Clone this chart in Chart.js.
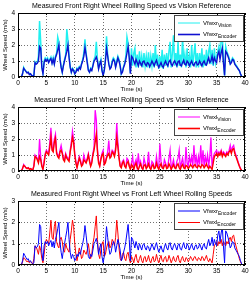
<!DOCTYPE html>
<html>
<head>
<meta charset="utf-8">
<script src="https://cdn.jsdelivr.net/npm/chart.js@4/dist/chart.umd.min.js"></script>
<style>
  html, body { margin: 0; padding: 0; background: #fff; }
  .wrap { position: absolute; left: 0; width: 251px; height: 94px; }
  canvas { display: block; }
</style>
</head>
<body>
<div class="wrap" style="top:0px"><canvas id="c1" width="251" height="94"></canvas></div>
<div class="wrap" style="top:94px"><canvas id="c2" width="251" height="94"></canvas></div>
<div class="wrap" style="top:188px"><canvas id="c3" width="251" height="94"></canvas></div>
<script>
// ---- data (sampled every DT seconds, t = 0 .. 40 s) ----
const DT = 0.2;
const xTicks = [0, 5, 10, 15, 20, 25, 30, 35, 40];
const titles = [
  "Measured Front Right Wheel Rolling Speed vs Vision Reference",
  "Measured Front Left Wheel Rolling Speed vs Vision Reference",
  "Measured Front Right Wheel vs Front Left Wheel Rolling Speeds"
];
const xLabel = "Time (s)";
const yLabel = "Wheel Speed (m/s)";

// right wheel, encoder
const encR = [
  0,0,0,0,0.2,
  0.55,0.45,0.35,0.25,0.3,
  0.15,0.2,0.1,0.05,0.1,
  0.9,0.8,0.85,1.0,1.9,
  1.8,0.6,0.2,0.9,1.1,
  1.0,1.1,0.9,1.05,1.15,
  0.85,1.1,0.8,1.2,1.4,
  1.7,2.0,1.1,0.6,0.3,
  0.7,1.0,1.3,1.6,2.0,
  1.2,0.6,0.3,0.5,0.4,
  0.2,0.3,0.5,0.4,0.6,
  0.5,0.8,1.0,1.3,1.85,
  1.4,0.9,0.4,0.3,0.5,
  0.4,0.7,1.0,1.1,1.25,
  1.0,0.5,0.8,1.0,0.4,
  0.1,0.4,1.0,1.8,1.3,
  0.8,0.5,0.6,0.9,1.1,
  1.0,0.6,0.9,1.2,1.0,
  0.7,0.2,0.3,0.6,0.8,
  1.1,1.5,1.9,1.2,0.2,
  1.3,1.2,1.0,0.8,1.1,
  0.9,0.7,1.0,0.85,0.7,
  0.95,1.0,0.8,0.7,0.9,
  0.85,0.65,0.8,1.0,0.85,
  0.7,0.9,1.05,0.8,0.6,
  0.75,0.9,0.7,0.6,0.85,
  1.0,0.8,0.7,0.95,1.05,
  0.8,0.7,0.9,1.0,0.85,
  0.7,0.95,1.0,0.75,0.7,
  0.9,1.05,0.8,0.75,1.0,
  0.9,0.7,0.85,1.0,0.8,
  0.7,0.9,0.95,0.75,0.8,
  1.0,0.85,0.7,0.9,1.0,
  0.8,0.75,1.0,1.2,0.9,
  1.0,1.3,0.9,1.2,1.0,
  0.9,1.4,1.6,1.1,1.5,
  1.8,0.9,0.1,1.6,1.5,
  1.3,1.1,0.8,0.9,1.1,
  1.05,0.8,0.7,0.6,0.5,
  0.4,0.2,0.05,0,0,
  0
];

// right wheel, vision reference
const visR = [
  0,0,0,0,0.2,
  0.6,0.45,0.35,0.3,0.3,
  0.2,0.2,0.1,0.05,0.1,
  0.95,0.85,0.9,1.3,3.5,
  2.2,0.6,0.25,1.0,1.2,
  1.1,1.2,0.95,1.1,1.25,
  0.9,1.2,0.85,1.3,1.5,
  2.5,2.2,1.2,0.65,0.3,
  0.75,1.1,1.4,3.0,2.3,
  1.3,0.65,0.3,0.55,0.45,
  0.2,0.35,0.55,0.45,0.65,
  0.55,0.85,1.1,1.5,2.35,
  1.5,1.0,0.45,0.3,0.55,
  0.45,0.75,1.1,1.3,2.2,
  1.1,0.55,0.85,1.1,0.45,
  0.1,0.45,1.1,2.55,1.4,
  0.85,0.55,0.65,1.0,1.2,
  1.1,0.65,1.0,1.3,1.1,
  0.75,0.2,0.35,0.65,0.9,
  1.3,2.5,2.1,1.3,0.25,
  1.8,0.7,1.5,1.8,0.6,
  1.4,0.6,1.6,0.7,1.3,
  0.6,1.5,0.7,1.3,0.6,
  1.55,0.55,1.3,0.7,1.5,
  0.6,2.0,0.7,1.4,0.5,
  1.3,0.6,1.7,0.5,1.4,
  0.7,1.5,0.6,1.6,2.2,
  0.6,1.5,2.6,0.7,1.5,
  0.6,2.2,0.7,1.4,0.6,
  2.5,0.8,1.4,0.6,1.8,
  0.7,1.3,0.6,2.0,0.7,
  1.4,2.1,0.6,1.5,0.6,
  1.5,0.7,1.8,0.6,1.4,
  0.7,1.7,0.8,1.6,2.0,
  0.8,1.7,0.7,1.8,0.9,
  1.3,1.6,1.9,1.2,2.3,
  2.6,1.0,0.1,1.9,1.6,
  1.4,1.2,0.85,1.0,1.2,
  1.1,0.85,0.75,0.65,0.5,
  0.4,0.2,0.05,0,0,
  0
];

// left wheel, encoder
const encL = [
  0,0,0,0,0.15,
  0.35,0.3,0.2,0.15,0.2,
  0.1,0.15,0.1,0.05,0.3,
  0.9,0.85,0.7,0.5,0.9,
  0.7,0.3,0.1,0.5,1.0,
  1.2,1.1,1.0,1.5,2.1,
  1.3,1.2,1.8,2.05,1.1,
  0.9,0.8,1.2,1.3,1.1,
  0.7,0.6,1.0,0.8,0.7,
  0.6,1.2,1.6,2.1,1.8,
  1.0,0.5,0.2,0.5,0.8,
  0.6,0.3,0.4,0.7,0.6,
  0.5,0.7,1.0,0.6,0.3,
  0.5,1.0,1.3,1.8,2.3,
  1.2,0.5,0.3,0.7,1.0,
  1.1,0.4,0.5,0.8,1.0,
  1.1,0.8,0.9,1.2,1.1,
  0.9,1.3,2.1,1.5,0.8,
  0.3,0.2,0.5,0.6,0.3,
  0.2,0.5,0.6,0.3,0.1,
  0.4,0.3,0.1,0.35,0.5,
  0.2,0.1,0.3,0.45,0.2,
  0.1,0.35,0.4,0.15,0.25,
  0.45,0.2,0.1,0.3,0.4,
  0.15,0.2,0.5,0.25,0.1,
  0.3,0.45,0.2,0.15,0.35,
  0.4,0.15,0.2,0.45,0.3,
  0.1,0.25,0.4,0.2,0.15,
  0.35,0.45,0.2,0.1,0.3,
  0.4,0.2,0.15,0.35,0.3,
  0.15,0.25,0.4,0.3,0.2,
  0.35,0.4,0.25,0.2,0.35,
  0.3,0.2,0.4,0.35,0.2,
  0.3,0.45,0.25,0.15,0.3,
  0.2,0.1,0.5,0.9,1.0,
  1.1,0.9,1.1,1.0,1.2,
  0.9,1.1,1.0,0.9,1.1,
  1.0,1.2,1.3,1.1,1.35,
  1.4,1.1,0.9,0.7,0.5,
  0.3,0.15,0.05,0,0,
  0
];

// left wheel, vision reference
const visL = [
  0,0,0,0,0.15,
  0.4,0.3,0.2,0.2,0.2,
  0.15,0.15,0.1,0.05,0.35,
  1.0,0.9,0.8,0.6,2.0,
  0.9,0.35,0.15,0.6,1.1,
  1.3,1.2,1.1,1.8,2.7,
  1.5,1.3,2.0,2.3,1.2,
  1.0,0.9,1.3,1.6,1.2,
  0.8,0.7,1.1,0.9,0.8,
  0.7,1.3,1.8,2.5,2.0,
  1.1,0.6,0.25,0.6,0.9,
  0.7,0.35,0.5,1.0,0.7,
  0.55,0.8,1.1,0.7,0.35,
  0.6,1.1,1.5,3.8,3.2,
  1.4,0.6,0.35,0.8,1.1,
  1.3,0.45,0.6,0.9,1.2,
  1.9,0.9,1.0,1.3,1.2,
  1.0,1.5,3.0,1.8,0.9,
  0.35,0.25,0.6,0.7,0.35,
  0.25,0.8,0.7,0.35,0.15,
  0.5,0.9,0.15,0.5,0.7,
  0.2,1.1,0.35,0.6,0.2,
  0.15,0.8,0.5,0.2,0.4,
  1.2,0.25,0.15,0.6,0.5,
  0.2,0.3,0.9,0.3,0.15,
  1.7,0.6,0.25,0.2,0.7,
  0.5,0.2,0.3,0.8,1.3,
  0.15,0.4,0.7,0.25,0.2,
  0.6,0.8,1.3,0.15,0.5,
  0.8,0.3,0.2,1.5,0.5,
  0.3,0.9,0.5,0.9,0.3,
  1.6,0.5,0.9,0.3,0.9,
  0.4,1.6,0.4,1.3,0.3,
  0.9,0.5,1.0,0.3,0.9,
  2.1,0.2,0.8,1.1,1.2,
  1.3,1.0,1.2,1.1,1.3,
  1.0,1.2,1.1,1.0,1.2,
  1.1,1.3,1.6,1.2,1.5,
  1.6,1.2,1.0,0.8,0.55,
  0.35,0.15,0.05,0,0,
  0
];

// ---- rendering ----
const FONT = '"Liberation Sans", Arial, Helvetica, sans-serif';
const toXY = arr => arr.map((v, i) => ({ x: +(i * DT).toFixed(2), y: v }));

const matlabPlugin = {
  id: 'matlab',
  afterDraw(chart, args, opts) {
    const { ctx, chartArea: a } = chart;
    ctx.save();
    // axes box
    ctx.strokeStyle = '#000';
    ctx.lineWidth = 1;
    ctx.setLineDash([]);
    ctx.strokeRect(Math.round(a.left) + 0.5, Math.round(a.top) + 0.5,
                   Math.round(a.right - a.left) - 1, Math.round(a.bottom - a.top) - 1);
    // inner tick marks
    const xs = chart.scales.x, ys = chart.scales.y;
    ctx.beginPath();
    xs.ticks.forEach(t => {
      const px = Math.round(xs.getPixelForValue(t.value)) + 0.5;
      ctx.moveTo(px, a.bottom); ctx.lineTo(px, a.bottom - 2);
      ctx.moveTo(px, a.top); ctx.lineTo(px, a.top + 2);
    });
    ys.ticks.forEach(t => {
      const py = Math.round(ys.getPixelForValue(t.value)) + 0.5;
      ctx.moveTo(a.left, py); ctx.lineTo(a.left + 2, py);
      ctx.moveTo(a.right, py); ctx.lineTo(a.right - 2, py);
    });
    ctx.stroke();
    // title
    ctx.fillStyle = '#000';
    ctx.font = '7px ' + FONT;
    ctx.textAlign = 'center';
    ctx.textBaseline = 'middle';
    ctx.fillText(opts.title, (a.left + a.right) / 2, opts.titleY);
    // legend
    const bw = 70, bh = 27;
    const bx = Math.round(a.right) - bw - 1, by = Math.round(a.top) + 2;
    ctx.fillStyle = '#fff';
    ctx.fillRect(bx, by, bw, bh);
    ctx.strokeStyle = '#444';
    ctx.lineWidth = 1;
    ctx.strokeRect(bx + 0.5, by + 0.5, bw - 1, bh - 1);
    opts.items.forEach((it, k) => {
      const y = by + 8 + k * 11.5;
      ctx.strokeStyle = it.color;
      ctx.lineWidth = it.width;
      ctx.beginPath();
      ctx.moveTo(bx + 4, y); ctx.lineTo(bx + 26, y);
      ctx.stroke();
      ctx.fillStyle = '#000';
      ctx.textAlign = 'left';
      ctx.textBaseline = 'middle';
      ctx.font = '6px ' + FONT;
      ctx.fillText(it.main, bx + 29, y);
      const w = ctx.measureText(it.main).width;
      ctx.font = '5px ' + FONT;
      ctx.fillText(it.sub, bx + 29 + w, y + 2.5);
    });
    ctx.restore();
  }
};

function makeChart(id, title, yMax, datasets, items) {
  new Chart(document.getElementById(id), {
    type: 'line',
    data: { datasets },
    options: {
      responsive: false,
      animation: false,
      events: [],
      layout: { padding: { top: 13, right: 6, left: 0, bottom: 0 } },
      elements: { point: { radius: 0 }, line: { tension: 0 } },
      plugins: {
        legend: { display: false },
        title: { display: false },
        tooltip: { enabled: false },
        matlab: { title, titleY: 6.5, items }
      },
      scales: {
        x: {
          type: 'linear', min: 0, max: 40,
          afterBuildTicks: s => { s.ticks = xTicks.map(v => ({ value: v })); },
          afterFit: s => { s.height = 17; },
          ticks: { font: { size: 6.5, family: FONT }, color: '#000', padding: 2, maxRotation: 0 },
          grid: { color: 'rgba(0,0,0,0.7)', lineWidth: 0.8, drawTicks: false },
          border: { display: false, dash: [1, 2] },
          title: { display: true, text: xLabel, color: '#000', font: { size: 6, family: FONT }, padding: { top: 0, bottom: 1.5 } }
        },
        y: {
          min: 0, max: yMax,
          afterFit: s => { s.width = 18; },
          ticks: { stepSize: 1, font: { size: 6.5, family: FONT }, color: '#000', padding: 3 },
          grid: { color: 'rgba(0,0,0,0.7)', lineWidth: 0.8, drawTicks: false },
          border: { display: false, dash: [1, 2] },
          title: { display: true, text: yLabel, color: '#000', font: { size: 6, family: FONT }, padding: { top: 1.5, bottom: 0 } }
        }
      }
    },
    plugins: [matlabPlugin]
  });
}

makeChart('c1', titles[0], 4, [
  { data: toXY(encR), borderColor: '#1010d0', borderWidth: 1.4 },
  { data: toXY(visR), borderColor: '#20f0f0', borderWidth: 1.5 }
], [
  { color: '#20f0f0', width: 1, main: 'Vfwxr', sub: 'Vision' },
  { color: '#1010d0', width: 1.6, main: 'Vfwxr', sub: 'Encoder' }
]);

makeChart('c2', titles[1], 4, [
  { data: toXY(encL), borderColor: '#ff0000', borderWidth: 1.4 },
  { data: toXY(visL), borderColor: '#ff00ff', borderWidth: 1.3 }
], [
  { color: '#ff00ff', width: 1, main: 'Vfwxl', sub: 'Vision' },
  { color: '#ff0000', width: 1.6, main: 'Vfwxl', sub: 'Encoder' }
]);

makeChart('c3', titles[2], 3, [
  { data: toXY(encR), borderColor: '#0000ff', borderWidth: 1 },
  { data: toXY(encL), borderColor: '#ff0000', borderWidth: 1 }
], [
  { color: '#0000ff', width: 1, main: 'Vfwxr', sub: 'Encoder' },
  { color: '#ff0000', width: 1, main: 'Vfwxl', sub: 'Encoder' }
]);
</script>
</body>
</html>
